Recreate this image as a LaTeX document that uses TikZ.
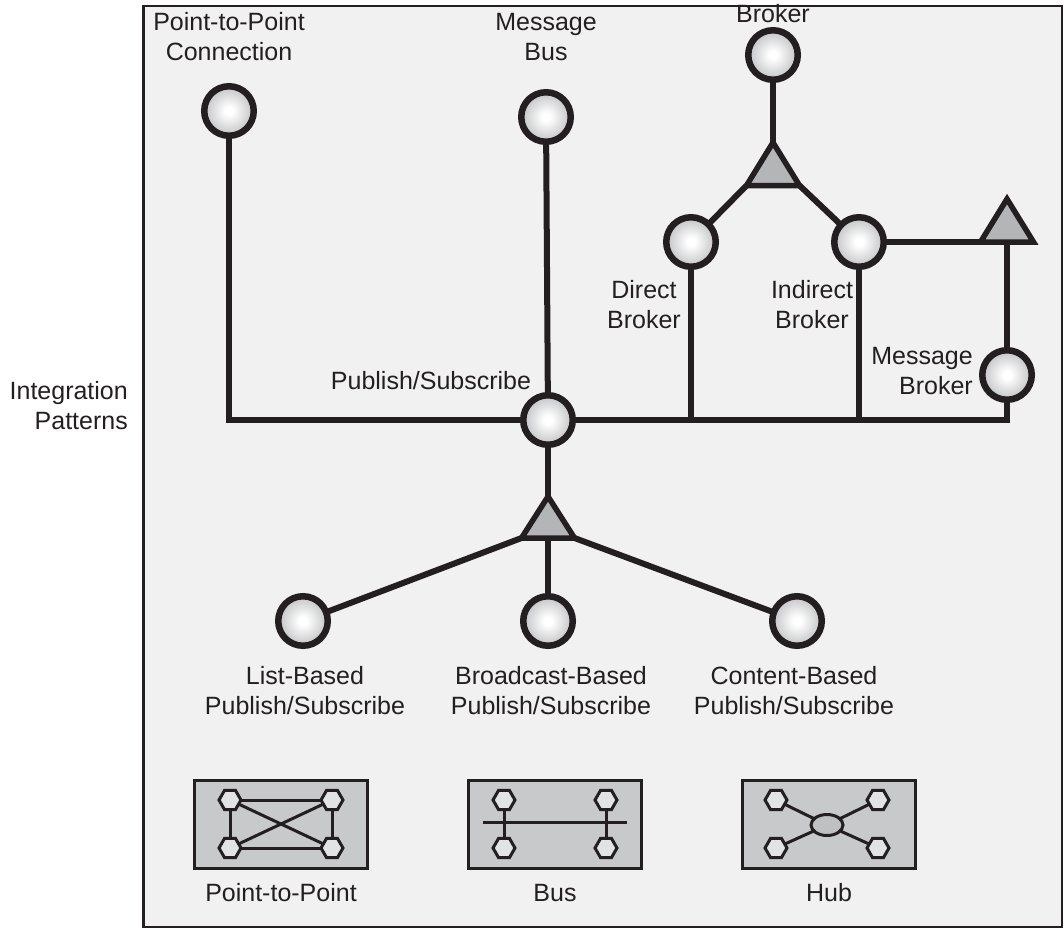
\documentclass[tikz,border=0pt]{standalone}
\usepackage{fontspec}
\setmainfont{Liberation Sans}
\usetikzlibrary{shapes.geometric}
\definecolor{ink}{HTML}{231F20}
\definecolor{panel}{HTML}{F1F1F1}
\definecolor{trigray}{HTML}{B4B5B7}
\definecolor{ballmid}{HTML}{B9BABC}
\definecolor{ballgray}{HTML}{737578}
\definecolor{boxgray}{HTML}{C8C9CB}
\definecolor{hexgray}{HTML}{E2E3E5}
\definecolor{hubgray}{HTML}{BFC0C2}
\pgfdeclareradialshading{ballshade}{\pgfpoint{0bp}{0bp}}{color(0bp)=(white); color(4bp)=(white); color(28bp)=(ballmid); color(50bp)=(ballgray)}
\pgfdeclarelayer{bg}
\pgfdeclarelayer{wires}
\pgfsetlayers{bg,wires,main}
\tikzset{
  ball/.style={circle, draw=ink, line width=6.5pt, shade, shading=ballshade, minimum size=49.5pt, inner sep=0pt},
  trishape/.style={draw=ink, fill=trigray, line width=5.5pt, line join=miter},
  wire/.style={draw=ink, line width=6pt},
  lbl/.style={font=\fontsize{25}{30}\selectfont, text=ink, align=center, inner sep=0pt},
  rlbl/.style={font=\fontsize{25}{30}\selectfont, text=ink, align=right, inner sep=0pt, anchor=east},
  iconbox/.style={rectangle, draw=ink, fill=boxgray, line width=3.2pt, minimum width=173pt, minimum height=88pt, inner sep=0pt},
  hex/.style={regular polygon, regular polygon sides=6, draw=ink, fill=hexgray, line width=3pt, minimum size=22pt, inner sep=0pt},
  hub/.style={ellipse, draw=ink, fill=hubgray, line width=3pt, minimum width=32pt, minimum height=21pt, inner sep=0pt},
  thinwire/.style={draw=ink, line width=3pt}
}
\begin{document}
\begin{tikzpicture}[x=1pt,y=-1pt]
\useasboundingbox (0,0) rectangle (1064,928);
% main nodes
\node[ball] (p2p) at (229,111) {};
\node[ball] (mbus) at (546,117) {};
\node[ball] (broker) at (773,55) {};
\node[ball] (direct) at (691,242) {};
\node[ball] (indirect) at (859,242) {};
\node[ball] (mbroker) at (1007,375) {};
\node[ball] (pubsub) at (548,420) {};
\node[ball] (list) at (303,621) {};
\node[ball] (bcast) at (548,621) {};
\node[ball] (content) at (797,621) {};
% triangles
\coordinate (btT) at (773,142.5);
\coordinate (btL) at (746.5,185.5);
\coordinate (btR) at (799.5,185.5);
\draw[trishape] (btT) -- (btL) -- (btR) -- cycle;
\coordinate (rtT) at (1007,199);
\coordinate (rtL) at (980.5,242);
\coordinate (rtR) at (1033.5,242);
\draw[trishape] (rtT) -- (rtL) -- (rtR) -- cycle;
\coordinate (ptT) at (548,496.5);
\coordinate (ptL) at (521.5,538);
\coordinate (ptR) at (574.5,538);
\draw[trishape] (ptT) -- (ptL) -- (ptR) -- cycle;
% labels
\node[lbl] (lp2p) at (229,37) {Point-to-Point\\Connection};
\node[lbl] (lmbus) at (546,37) {Message\\Bus};
\node[lbl] (lbroker) at (773,14) {Broker};
\node[lbl] (ldirect) at (644,305) {Direct\\Broker};
\node[lbl] (lindirect) at (812,305) {Indirect\\Broker};
\node[rlbl] (lmbroker) at (973,371) {Message\\Broker};
\node[lbl] (lpubsub) at (431,381) {Publish/Subscribe};
\node[rlbl] (lint) at (128,406) {Integration\\Patterns};
\node[lbl] (llist) at (305,691) {List-Based\\Publish/Subscribe};
\node[lbl] (lbcast) at (551,691) {Broadcast-Based\\Publish/Subscribe};
\node[lbl] (lcontent) at (794,691) {Content-Based\\Publish/Subscribe};
% icons
\node[hex] (a1) at (230,800) {};
\node[hex] (a2) at (332,800) {};
\node[hex] (a3) at (230,848) {};
\node[hex] (a4) at (332,848) {};
\node[hex] (b1) at (504,800) {};
\node[hex] (b2) at (606,800) {};
\node[hex] (b3) at (504,848) {};
\node[hex] (b4) at (606,848) {};
\coordinate (busL) at (483,822);
\coordinate (busR) at (627,822);
\node[hex] (c1) at (776,800) {};
\node[hex] (c2) at (878,800) {};
\node[hex] (c3) at (776,848) {};
\node[hex] (c4) at (878,848) {};
\node[hub] (hubc) at (827,825) {};
\node[lbl] (lpp) at (281,893) {Point-to-Point};
\node[lbl] (lbus) at (555,893) {Bus};
\node[lbl] (lhub) at (829,893) {Hub};
\begin{pgfonlayer}{bg}
  \draw[draw=ink, fill=panel, line width=2.5pt] (143.5,6) rectangle (1062,927);
  \node[iconbox] (box1) at (281,824.5) {};
  \node[iconbox] (box2) at (555,824.5) {};
  \node[iconbox] (box3) at (829,824.5) {};
\end{pgfonlayer}
\begin{pgfonlayer}{wires}
  \draw[wire] (p2p.center) |- (mbroker.center |- pubsub.center) -- (mbroker.center);
  \draw[wire] (mbus.center) -- (pubsub.center);
  \draw[wire] (direct.center) -- (direct.center |- pubsub.center);
  \draw[wire] (indirect.center) -- (indirect.center |- pubsub.center);
  \draw[wire] (broker.center) -- (btT);
  \draw[wire] (btL) -- (direct.center);
  \draw[wire] (btR) -- (indirect.center);
  \draw[wire] (indirect.center) -- (rtL);
  \draw[wire] (rtT) -- (mbroker.center);
  \draw[wire] (pubsub.center) -- (ptT);
  \draw[wire] (ptL) -- (list.center);
  \draw[wire] (ptR) -- (content.center);
  \draw[wire] (ptT) -- (bcast.center);
  % icon wiring
  \draw[thinwire] (a1.center) -- (a2.center);
  \draw[thinwire] (a3.center) -- (a4.center);
  \draw[thinwire] (a1.center) -- (a3.center);
  \draw[thinwire] (a2.center) -- (a4.center);
  \draw[thinwire] (a1.center) -- (a4.center);
  \draw[thinwire] (a2.center) -- (a3.center);
  \draw[thinwire] (busL) -- (busR);
  \draw[thinwire] (b1.center) -- (b3.center);
  \draw[thinwire] (b2.center) -- (b4.center);
  \draw[thinwire] (c1.center) -- (hubc.center);
  \draw[thinwire] (c2.center) -- (hubc.center);
  \draw[thinwire] (c3.center) -- (hubc.center);
  \draw[thinwire] (c4.center) -- (hubc.center);
\end{pgfonlayer}
\end{tikzpicture}
\end{document}
